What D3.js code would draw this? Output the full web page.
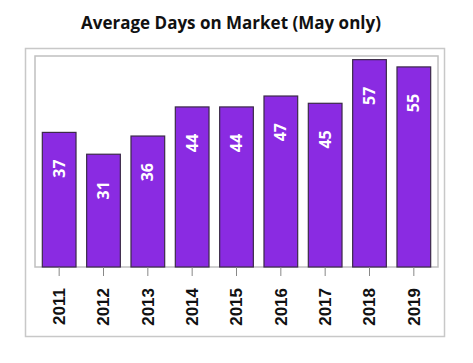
<!DOCTYPE html>
<html>
<head>
<meta charset="utf-8">
<script src="https://cdn.jsdelivr.net/npm/d3@7"></script>
<style>
  body { margin: 0; background: #fff; }
  svg { display: block; }
</style>
</head>
<body>
<div id="chart"></div>
<script>
// chart values
var years = ['2011', '2012', '2013', '2014', '2015', '2016', '2017', '2018', '2019'];
var avgDays = [37, 31, 36, 44, 44, 47, 45, 57, 55];
var chartTitle = 'Average Days on Market (May only)';

var width = 473, height = 363;
var plot = { left: 35, top: 56, right: 438, bottom: 267 };

var svg = d3.select('#chart').append('svg')
  .attr('width', width)
  .attr('height', height);

// outer frame
svg.append('rect')
  .attr('x', 25.5).attr('y', 48.5)
  .attr('width', 419).attr('height', 288)
  .attr('fill', 'none')
  .attr('stroke', '#c8c8c8')
  .attr('stroke-width', 1.5);

// title
svg.append('text')
  .attr('x', 231).attr('y', 29)
  .attr('text-anchor', 'middle')
  .attr('font-family', '"Open Sans", sans-serif')
  .attr('font-weight', 'bold')
  .attr('font-size', 17)
  .attr('fill', '#111')
  .text(chartTitle);

var x = d3.scaleBand()
  .domain(years)
  .range([plot.left + 2, plot.right - 2])
  .paddingInner(0.24)
  .paddingOuter(0.12);

var y = d3.scaleLinear()
  .domain([0, 58])
  .range([plot.bottom, plot.top]);

// inner plot frame
svg.append('rect')
  .attr('x', plot.left).attr('y', plot.top)
  .attr('width', plot.right - plot.left)
  .attr('height', plot.bottom - plot.top)
  .attr('fill', 'none')
  .attr('stroke', '#c0c0c0')
  .attr('stroke-width', 1.5);

// bars
svg.selectAll('rect.bar')
  .data(avgDays)
  .enter()
    .append('rect')
    .attr('class', 'bar')
    .attr('x', function(d, i) { return x(years[i]); })
    .attr('y', function(d) { return y(d); })
    .attr('width', x.bandwidth())
    .attr('height', function(d) { return y(0) - y(d); })
    .attr('fill', '#8a2be2')
    .attr('stroke', '#3b2a48')
    .attr('stroke-width', 1.2);

// value labels inside the bars
svg.selectAll('text.val')
  .data(avgDays)
  .enter()
    .append('text')
    .attr('class', 'val')
    .attr('transform', function(d, i) {
      return 'translate(' + (x(years[i]) + x.bandwidth() / 2 + 5.5) + ',' + (y(d) + 27) + ') rotate(-90)';
    })
    .attr('text-anchor', 'end')
    .attr('font-family', '"Open Sans", sans-serif')
    .attr('font-weight', 'bold')
    .attr('font-size', 16)
    .attr('fill', '#fff')
    .text(function(d) { return d; });

// x axis
var xAxis = d3.axisBottom(x).tickSize(9).tickPadding(12);
var gx = svg.append('g')
  .attr('transform', 'translate(0,' + plot.bottom + ')')
  .call(xAxis);
gx.select('.domain').remove();
gx.selectAll('.tick line').attr('stroke', '#888');
gx.selectAll('.tick text')
  .attr('transform', 'rotate(-90)')
  .attr('text-anchor', 'end')
  .attr('x', -21)
  .attr('y', 0)
  .attr('dy', '0.35em')
  .attr('font-family', '"Liberation Sans", Arial, sans-serif')
  .attr('font-weight', 'bold')
  .attr('font-size', 17)
  .attr('fill', '#111');
</script>
</body>
</html>
